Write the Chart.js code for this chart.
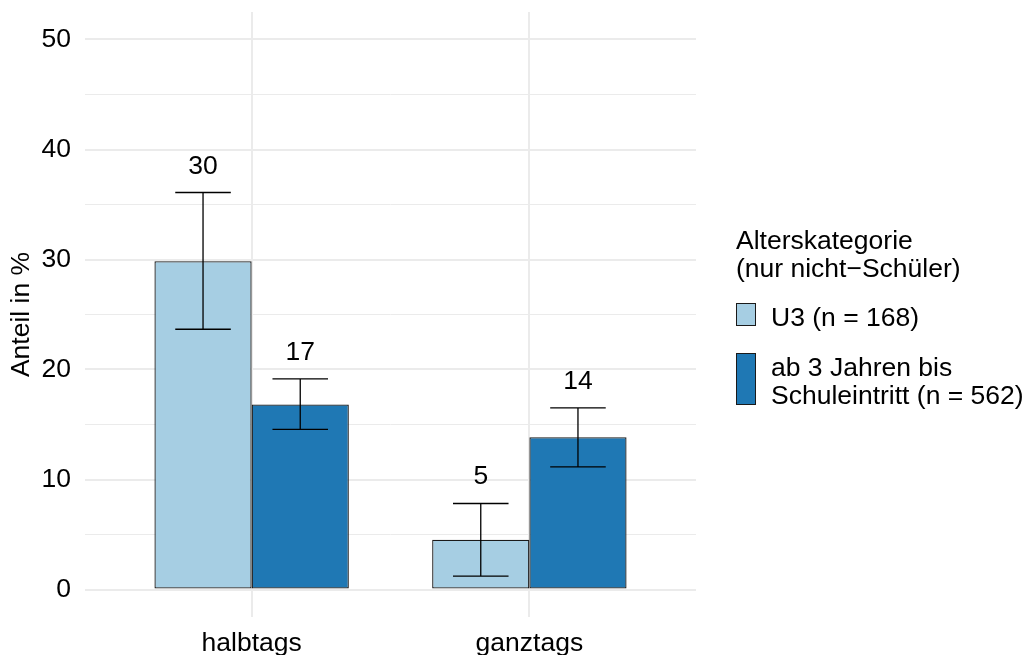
<!DOCTYPE html>
<html>
<head>
<meta charset="utf-8">
<script src="https://cdn.jsdelivr.net/npm/chart.js@4.4.0/dist/chart.umd.min.js"></script>
<style>
    body { margin: 0; background: #fff; font-family: "Liberation Sans", Arial, sans-serif; color: #000; }
    #wrap { position: relative; width: 1027px; height: 655px; }
    #legend { position: absolute; left: 736px; top: 226px; font-size: 26.5px; line-height: 28px; }
    .item { position: absolute; left: 0; white-space: nowrap; }
    .key { position: absolute; left: 0; width: 18px; border: 1.3px solid #1a1a1a; }
    .txt { position: absolute; left: 35px; }
</style>
</head>
<body>
<div id="wrap">
    <canvas id="chart" width="1027" height="655"></canvas>
    <div id="legend"></div>
</div>
<script>
const categories = ['halbtags', 'ganztags']
const seriesLabels = [['U3 (n = 168)'], ['ab 3 Jahren bis', 'Schuleintritt (n = 562)']]
const legendTitle = ['Alterskategorie', '(nur nicht−Schüler)']
const colors = ['#A6CEE3', '#1F78B4']

// Anteil in %, mit Konfidenzintervall
const u3Values = [29.85, 4.52]
const u3Low = [23.66, 1.21]
const u3High = [36.09, 7.82]
const kgValues = [16.82, 13.85]
const kgLow = [14.55, 11.15]
const kgHigh = [19.15, 16.52]

const yTicks = [0, 10, 20, 30, 40, 50]

const FONT = '"Liberation Sans", Arial, sans-serif'
const SIZE = 26.5

const toPoints = values => values.map((v, i) => ({ x: i, y: v }))

const errorBars = {
    id: 'errorBars',
    afterDatasetsDraw(chart) {
        const { ctx, scales: { x, y } } = chart
        const half = x.getPixelForValue(0.1) - x.getPixelForValue(0)
        chart.data.datasets.forEach((ds, i) => {
            chart.getDatasetMeta(i).data.forEach((bar, j) => {
                const top = y.getPixelForValue(ds.errHigh[j])
                const bottom = y.getPixelForValue(ds.errLow[j])
                ctx.save()
                ctx.strokeStyle = '#000'
                ctx.lineWidth = 1.3
                ctx.beginPath()
                ctx.moveTo(bar.x, top); ctx.lineTo(bar.x, bottom)
                ctx.moveTo(bar.x - half, top); ctx.lineTo(bar.x + half, top)
                ctx.moveTo(bar.x - half, bottom); ctx.lineTo(bar.x + half, bottom)
                ctx.stroke()
                ctx.fillStyle = '#000'
                ctx.font = SIZE + 'px ' + FONT
                ctx.textAlign = 'center'
                ctx.textBaseline = 'alphabetic'
                ctx.fillText(String(Math.round(ds.data[j].y)), bar.x, top - 19)
                ctx.restore()
            })
        })
    }
}

const datasets = [
    { label: seriesLabels[0].join(' '), data: toPoints(u3Values), errLow: u3Low, errHigh: u3High, backgroundColor: colors[0] },
    { label: seriesLabels[1].join(' '), data: toPoints(kgValues), errLow: kgLow, errHigh: kgHigh, backgroundColor: colors[1] }
].map(ds => ({ ...ds, borderColor: '#1a1a1a', borderWidth: 1.3, borderSkipped: false, categoryPercentage: 0.7, barPercentage: 1.0 }))

const noPadding = s => { s.paddingTop = 0; s.paddingBottom = 0; s.paddingLeft = 0; s.paddingRight = 0 }

new Chart(document.getElementById('chart'), {
    type: 'bar',
    data: { datasets },
    plugins: [errorBars],
    options: {
        responsive: false,
        animation: false,
        layout: { padding: { top: 12, right: 331, left: 0, bottom: 0 } },
        plugins: { legend: { display: false }, tooltip: { enabled: false } },
        scales: {
            x: {
                type: 'linear',
                min: -0.6,
                max: 1.6,
                offset: false,
                afterBuildTicks: s => { s.ticks = categories.map((c, i) => ({ value: i })) },
                afterFit: s => { s.height = 38; noPadding(s) },
                ticks: { callback: v => categories[v], color: '#000', font: { size: SIZE, family: FONT }, padding: 11, autoSkip: false, maxRotation: 0 },
                grid: { offset: false, color: '#EBEBEB', lineWidth: 2, drawTicks: false },
                border: { display: false }
            },
            y: {
                min: -2.5,
                max: 52.5,
                afterBuildTicks: s => {
                    const minor = yTicks.slice(0, -1).map(v => v + 5)
                    s.ticks = [...yTicks, ...minor].sort((a, b) => a - b).map(v => ({ value: v }))
                },
                afterFit: s => { s.width = 85; noPadding(s) },
                ticks: { callback: v => yTicks.includes(v) ? String(v) : '', color: '#000', font: { size: SIZE, family: FONT }, padding: 14 },
                grid: { color: '#EBEBEB', lineWidth: c => c.tick && c.tick.value % 10 === 0 ? 2 : 1, drawTicks: false },
                border: { display: false },
                title: { display: true, text: 'Anteil in %', color: '#000', font: { size: SIZE, family: FONT }, padding: { top: 6, bottom: 4 } }
            }
        }
    }
})

// Legende
const legend = document.getElementById('legend')
legend.innerHTML = '<div class="item" style="top:0">' + legendTitle.join('<br>') + '</div>'
const itemTops = [77, 127]
seriesLabels.forEach((lines, i) => {
    const h = lines.length == 1 ? 21 : 50
    legend.innerHTML += '<div class="item" style="top:' + itemTops[i] + 'px">' +
        '<div class="key" style="top:0;height:' + h + 'px;background:' + colors[i] + '"></div>' +
        '<div class="txt">' + lines.join('<br>') + '</div></div>'
})
</script>
</body>
</html>
